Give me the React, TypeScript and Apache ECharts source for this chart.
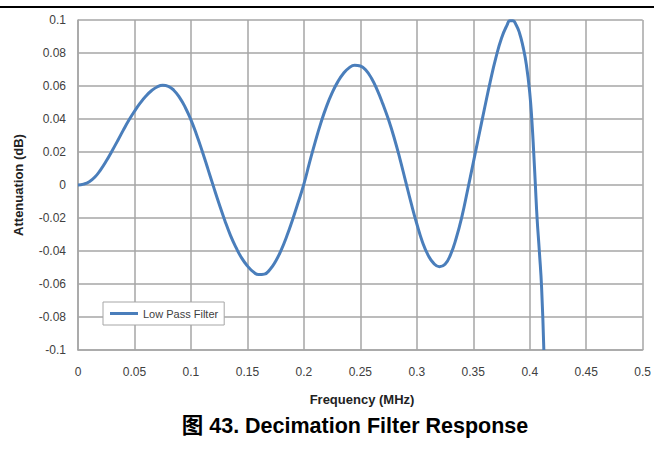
import React, { useEffect, useRef } from "react";
import * as echarts from "echarts";

const freqMHz: number[] = [
  0, 0.005, 0.01, 0.015, 0.02, 0.025, 0.03, 0.035, 0.04, 0.045, 0.05, 0.055, 0.06, 0.065, 0.07,
  0.075, 0.08, 0.085, 0.09, 0.095, 0.1, 0.105, 0.11, 0.115, 0.12, 0.125, 0.13, 0.135, 0.14,
  0.145, 0.15, 0.155, 0.16, 0.165, 0.17, 0.175, 0.18, 0.185, 0.19, 0.195, 0.2, 0.205, 0.21,
  0.215, 0.22, 0.225, 0.23, 0.235, 0.24, 0.245, 0.25, 0.255, 0.26, 0.265, 0.27, 0.275, 0.28,
  0.285, 0.29, 0.295, 0.3, 0.305, 0.31, 0.315, 0.32, 0.325, 0.33, 0.335, 0.34, 0.345, 0.35,
  0.355, 0.36, 0.365, 0.37, 0.375, 0.38, 0.3825, 0.385, 0.388, 0.391, 0.394, 0.397, 0.4,
  0.402, 0.4035, 0.405, 0.4065, 0.4085, 0.4105, 0.4125,
];
const attenuationDb: number[] = [
  0, 0.0005, 0.002, 0.0048, 0.0092, 0.0145, 0.0205, 0.0267, 0.0331, 0.0392, 0.0447, 0.0496, 0.0538, 0.0571, 0.0594,
  0.0604, 0.0598, 0.0573, 0.053, 0.047, 0.0395, 0.0305, 0.0205, 0.0098, -0.001, -0.0115, -0.0215, -0.0305, -0.038,
  -0.0443, -0.049, -0.0525, -0.0543, -0.054, -0.0512, -0.0462, -0.0393, -0.0308, -0.021, -0.0105, 0.0005, 0.0135, 0.026,
  0.0375, 0.0475, 0.0558, 0.0625, 0.0676, 0.071, 0.0726, 0.0721, 0.0695, 0.0645, 0.0575, 0.049, 0.0395, 0.0285,
  0.016, 0.0025, -0.011, -0.0235, -0.0345, -0.0425, -0.0475, -0.0495, -0.048, -0.042, -0.032, -0.019, -0.003, 0.0135,
  0.03, 0.0465, 0.0625, 0.077, 0.089, 0.097, 0.0995, 0.0995, 0.097, 0.092, 0.084, 0.073, 0.056,
  0.038, 0.02, 0.0, -0.02, -0.04, -0.062, -0.1,
];
const seriesName = "Low Pass Filter";
const xAxisTitle = "Frequency (MHz)";
const yAxisTitle = "Attenuation (dB)";
const caption = "图 43. Decimation Filter Response";

export default function App() {
  const ref = useRef<HTMLDivElement>(null);
  useEffect(() => {
    if (!ref.current) return;
    const chart = echarts.init(ref.current, null, { renderer: "svg" });
    const grid = "#a6a6a6";
    chart.setOption({
      animation: false,
      backgroundColor: "#ffffff",
      grid: { left: 78, right: 8, top: 20, bottom: 101, containLabel: false },
      xAxis: {
        type: "value",
        min: 0,
        max: 0.5,
        interval: 0.05,
        axisLine: { show: true, onZero: false, lineStyle: { color: grid, width: 1.5 } },
        axisTick: { show: false },
        splitLine: { show: true, lineStyle: { color: grid, width: 1.5 } },
        axisLabel: {
          margin: 16,
          color: "#404040",
          fontSize: 12,
          fontFamily: "Liberation Sans",
          showMaxLabel: true,
          formatter: (v: number) => String(Math.round(v * 100) / 100),
        },
      },
      yAxis: {
        type: "value",
        min: -0.1,
        max: 0.1,
        interval: 0.02,
        axisLine: { show: true, lineStyle: { color: grid, width: 1.5 } },
        axisTick: { show: false },
        splitLine: { show: true, lineStyle: { color: grid, width: 1.5 } },
        axisLabel: {
          margin: 12,
          color: "#404040",
          fontSize: 12,
          fontFamily: "Liberation Sans",
          formatter: (v: number) => String(Math.round(v * 100) / 100),
        },
      },
      legend: {
        left: 103,
        top: 302,
        orient: "horizontal",
        data: [{ name: seriesName, icon: "rect" }],
        itemWidth: 28,
        itemHeight: 3,
        itemGap: 4,
        padding: [6, 6, 6, 7],
        borderColor: "#a6a6a6",
        borderWidth: 1,
        backgroundColor: "#ffffff",
        textStyle: { color: "#404040", fontSize: 11, fontFamily: "Liberation Sans" },
      },
      series: [
        {
          name: seriesName,
          type: "line",
          data: freqMHz.map((f, i) => [f, attenuationDb[i]]),
          smooth: 0.5,
          showSymbol: false,
          clip: false,
          lineStyle: { color: "#4a7ebb", width: 3 },
          itemStyle: { color: "#4a7ebb" },
        },
      ],
      graphic: [
        {
          type: "line",
          shape: { x1: 0, y1: 7, x2: 654, y2: 7 },
          style: { stroke: "#000000", lineWidth: 2 },
        },
        {
          type: "text",
          x: 18,
          y: 185,
          rotation: Math.PI / 2,
          style: {
            text: yAxisTitle,
            fill: "#222222",
            font: "bold 13px 'Liberation Sans'",
            textAlign: "center",
            textVerticalAlign: "middle",
          },
        },
        {
          type: "text",
          x: 362,
          y: 399,
          style: {
            text: xAxisTitle,
            fill: "#222222",
            font: "bold 13px 'Liberation Sans'",
            textAlign: "center",
            textVerticalAlign: "middle",
          },
        },
        {
          type: "text",
          x: 355,
          y: 426,
          style: {
            text: caption,
            fill: "#000000",
            font: "bold 21.5px 'Liberation Sans', 'Noto Sans CJK SC'",
            textAlign: "center",
            textVerticalAlign: "middle",
          },
        },
      ],
    });
    return () => chart.dispose();
  }, []);
  return (
    <div
      ref={ref}
      style={{ position: "fixed", left: 0, top: 0, width: 654, height: 451 }}
    />
  );
}
